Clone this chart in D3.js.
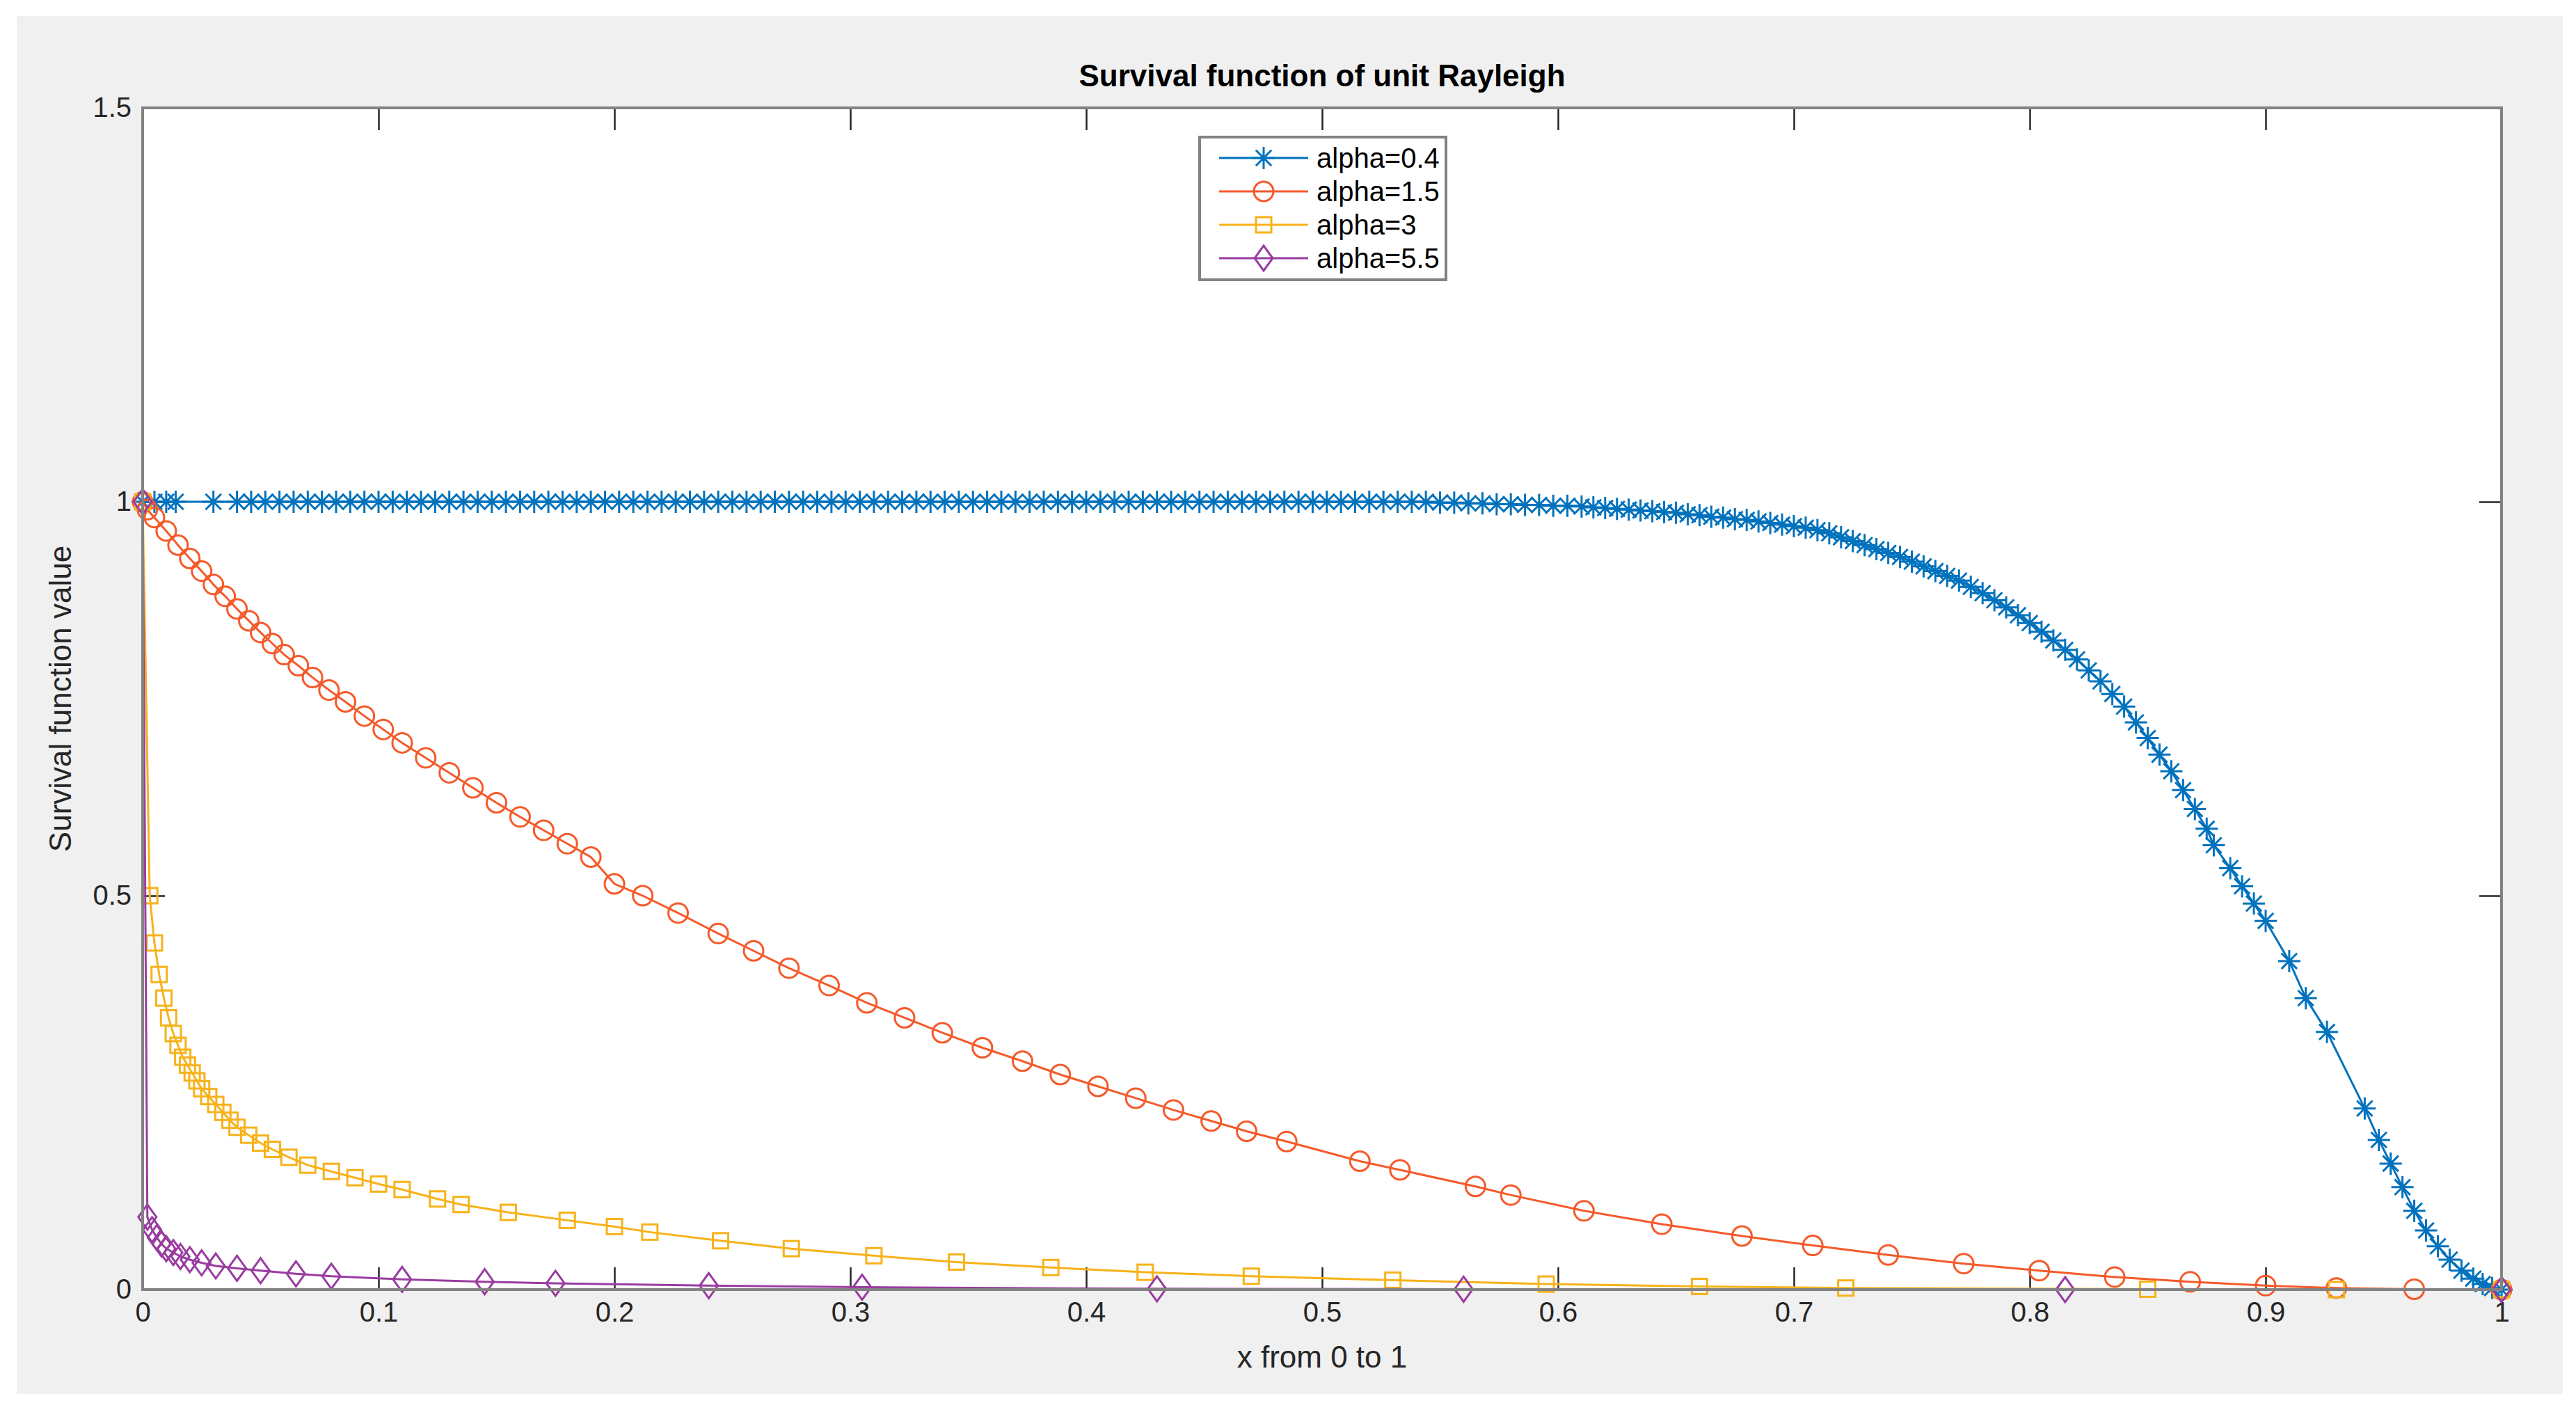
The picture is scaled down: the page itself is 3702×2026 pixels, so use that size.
<!DOCTYPE html>
<html>
<head>
<meta charset="utf-8">
<script src="https://cdn.jsdelivr.net/npm/d3@7"></script>
<style>
  body { margin: 0; background: #fff; }
  text { font-family: "Liberation Sans", Arial, sans-serif; }
</style>
</head>
<body>
<svg id="chart" width="3702" height="2026"></svg>
<script>
// ---- data ----
var xTicks = [0, 0.1, 0.2, 0.3, 0.4, 0.5, 0.6, 0.7, 0.8, 0.9, 1];
var yTicks = [0, 0.5, 1, 1.5];
var seriesNames = ["alpha=0.4", "alpha=1.5", "alpha=3", "alpha=5.5"];

var alpha04 = [
  [0,1],[0.005,1],[0.01,1],[0.014,1],[0.03,1],[0.04,1],[0.046,1],[0.052,1],[0.058,1],[0.064,1],
  [0.07,1],[0.076,1],[0.082,1],[0.088,1],[0.094,1],[0.1,1],[0.106,1],[0.112,1],[0.118,1],[0.124,1],
  [0.13,1],[0.136,1],[0.142,1],[0.148,1],[0.154,1],[0.16,1],[0.166,1],[0.172,1],[0.178,1],[0.184,1],
  [0.19,1],[0.196,1],[0.202,1],[0.208,1],[0.214,1],[0.22,1],[0.226,1],[0.232,1],[0.238,1],[0.244,1],
  [0.25,1],[0.256,1],[0.262,1],[0.268,1],[0.274,1],[0.28,1],[0.286,1],[0.292,1],[0.298,1],[0.304,1],
  [0.31,1],[0.316,1],[0.322,1],[0.328,1],[0.334,1],[0.34,1],[0.346,1],[0.352,1],[0.358,1],[0.364,1],
  [0.37,1],[0.376,1],[0.382,1],[0.388,1],[0.394,1],[0.4,1],[0.406,1],[0.412,1],[0.418,1],[0.424,1],
  [0.43,1],[0.436,1],[0.442,1],[0.448,1],[0.454,1],[0.46,1],[0.466,1],[0.472,1],[0.478,1],[0.484,1],
  [0.49,1],[0.496,1],[0.502,1],[0.508,1],[0.514,1],[0.52,1],[0.526,1],[0.532,1],[0.538,1],[0.544,1],
  [0.55,0.999],[0.556,0.999],[0.562,0.998],[0.568,0.998],[0.574,0.997],[0.58,0.997],[0.586,0.996],
  [0.592,0.996],[0.598,0.995],[0.604,0.995],[0.61,0.994],[0.615,0.993],[0.62,0.992],[0.625,0.991],
  [0.63,0.99],[0.635,0.989],[0.64,0.988],[0.645,0.987],[0.65,0.986],[0.655,0.984],[0.66,0.983],
  [0.665,0.981],[0.67,0.98],[0.675,0.978],[0.68,0.977],[0.685,0.975],[0.69,0.973],[0.695,0.971],
  [0.7,0.969],[0.705,0.967],[0.71,0.964],[0.715,0.96],[0.72,0.955],[0.725,0.95],[0.73,0.945],
  [0.735,0.94],[0.74,0.935],[0.745,0.93],[0.75,0.924],[0.755,0.918],[0.76,0.912],[0.765,0.906],
  [0.77,0.9],[0.775,0.892],[0.78,0.884],[0.785,0.875],[0.79,0.866],[0.795,0.856],[0.8,0.846],
  [0.805,0.835],[0.81,0.824],[0.815,0.812],[0.82,0.8],[0.825,0.786],[0.83,0.772],[0.835,0.756],
  [0.84,0.74],[0.845,0.72],[0.85,0.7],[0.855,0.679],[0.86,0.658],[0.865,0.634],[0.87,0.61],
  [0.875,0.585],[0.878,0.564],[0.885,0.535],[0.89,0.512],[0.895,0.49],[0.9,0.468],[0.91,0.417],
  [0.917,0.37],[0.926,0.327],[0.942,0.23],[0.948,0.19],[0.953,0.16],[0.958,0.13],[0.963,0.10],
  [0.968,0.075],[0.973,0.055],[0.978,0.038],[0.983,0.024],[0.988,0.014],[0.992,0.007],[0.996,0.002],[1,0]
];

var alpha15 = [
  [0,1],[0.002,0.99],[0.005,0.98],[0.01,0.963],[0.015,0.945],[0.02,0.928],[0.025,0.912],[0.03,0.895],
  [0.035,0.88],[0.04,0.864],[0.045,0.849],[0.05,0.834],[0.055,0.82],[0.06,0.806],[0.066,0.792],
  [0.072,0.777],[0.079,0.761],[0.086,0.746],[0.094,0.728],[0.102,0.711],[0.11,0.694],[0.12,0.675],
  [0.13,0.656],[0.14,0.637],[0.15,0.618],[0.16,0.6],[0.17,0.583],[0.18,0.566],[0.19,0.549],
  [0.2,0.515],[0.212,0.5],[0.227,0.478],[0.244,0.452],[0.259,0.43],[0.274,0.408],[0.291,0.386],
  [0.307,0.364],[0.323,0.345],[0.339,0.326],[0.356,0.307],[0.373,0.29],[0.389,0.273],[0.405,0.258],
  [0.421,0.243],[0.437,0.228],[0.453,0.214],[0.468,0.201],[0.485,0.188],[0.516,0.163],[0.533,0.152],
  [0.565,0.131],[0.58,0.12],[0.611,0.1],[0.644,0.083],[0.678,0.068],[0.708,0.056],[0.74,0.044],
  [0.772,0.033],[0.804,0.024],[0.836,0.016],[0.868,0.01],[0.9,0.005],[0.93,0.002],[0.963,0.0005],[1,0]
];

var alpha3 = [
  [0,1],[0.003,0.5],[0.005,0.44],[0.007,0.4],[0.009,0.37],[0.011,0.345],[0.013,0.325],[0.015,0.31],
  [0.017,0.295],[0.019,0.285],[0.021,0.275],[0.023,0.265],[0.025,0.255],[0.028,0.245],[0.031,0.235],
  [0.034,0.225],[0.037,0.215],[0.04,0.206],[0.045,0.196],[0.05,0.186],[0.055,0.178],[0.062,0.168],
  [0.07,0.158],[0.08,0.15],[0.09,0.142],[0.1,0.134],[0.11,0.127],[0.125,0.115],[0.135,0.108],
  [0.155,0.098],[0.18,0.088],[0.2,0.08],[0.215,0.073],[0.245,0.062],[0.275,0.052],[0.31,0.043],
  [0.345,0.035],[0.385,0.028],[0.425,0.022],[0.47,0.017],[0.53,0.012],[0.595,0.007],[0.66,0.004],
  [0.722,0.002],[0.85,0.0005],[0.93,0],[1,0]
];

var alpha55 = [
  [0,1],[0.002,0.092],[0.004,0.076],[0.006,0.066],[0.008,0.058],[0.01,0.052],[0.013,0.047],
  [0.016,0.042],[0.02,0.038],[0.025,0.034],[0.031,0.03],[0.04,0.027],[0.05,0.024],[0.065,0.02],
  [0.08,0.017],[0.11,0.013],[0.145,0.01],[0.175,0.008],[0.24,0.005],[0.305,0.003],[0.43,0.001],
  [0.56,0.0005],[0.815,0],[1,0]
];

var allSeries = [alpha04, alpha15, alpha3, alpha55];
var colors = ["#0072BD", "#F55A2A", "#F7B21A", "#993CA0"];
var markers = ["star", "circle", "square", "diamond"];

// ---- layout ----
var svg = d3.select("#chart");
var plotL = 205, plotR = 3595, plotT = 155, plotB = 1853;

svg.append("rect").attr("x", 24).attr("y", 23).attr("width", 3659).attr("height", 1980)
  .attr("fill", "#f0f0f0");
svg.append("rect").attr("x", plotL).attr("y", plotT).attr("width", plotR - plotL).attr("height", plotB - plotT)
  .attr("fill", "#fff");

var x = d3.scaleLinear().domain([0, 1]).range([plotL, plotR]);
var y = d3.scaleLinear().domain([0, 1.5]).range([plotB, plotT]);

var tickLen = 32;
function styleAxis(g) {
  g.select(".domain").remove();
  g.selectAll(".tick line").attr("stroke", "#262626").attr("stroke-width", 2.5);
  g.selectAll(".tick text").attr("fill", "#262626").attr("font-size", 40);
}
svg.append("g").attr("transform", "translate(0," + plotB + ")")
  .call(d3.axisBottom(x).tickValues(xTicks).tickSizeInner(-tickLen).tickPadding(18).tickFormat(d3.format("")))
  .call(styleAxis);
svg.append("g").attr("transform", "translate(0," + plotT + ")")
  .call(d3.axisTop(x).tickValues(xTicks).tickSizeInner(-tickLen).tickFormat(""))
  .call(styleAxis);
svg.append("g").attr("transform", "translate(" + plotL + ",0)")
  .call(d3.axisLeft(y).tickValues(yTicks).tickSizeInner(-tickLen).tickPadding(16).tickFormat(d3.format("")))
  .call(styleAxis);
svg.append("g").attr("transform", "translate(" + plotR + ",0)")
  .call(d3.axisRight(y).tickValues(yTicks).tickSizeInner(-tickLen).tickFormat(""))
  .call(styleAxis);

// ---- lines and markers ----
var line = d3.line().x(d => x(d[0])).y(d => y(d[1]));

function drawMarker(g, type, cx, cy, color) {
  if (type === "star") {
    var r = 16;
    g.append("path").attr("d",
      "M" + (cx - r) + "," + cy + "H" + (cx + r) +
      "M" + cx + "," + (cy - r) + "V" + (cy + r) +
      "M" + (cx - r * 0.7) + "," + (cy - r * 0.7) + "L" + (cx + r * 0.7) + "," + (cy + r * 0.7) +
      "M" + (cx - r * 0.7) + "," + (cy + r * 0.7) + "L" + (cx + r * 0.7) + "," + (cy - r * 0.7))
      .attr("stroke", color).attr("stroke-width", 3).attr("fill", "none");
  } else if (type === "circle") {
    g.append("circle").attr("cx", cx).attr("cy", cy).attr("r", 14)
      .attr("stroke", color).attr("stroke-width", 3).attr("fill", "none");
  } else if (type === "square") {
    g.append("rect").attr("x", cx - 11).attr("y", cy - 11).attr("width", 22).attr("height", 22)
      .attr("stroke", color).attr("stroke-width", 3).attr("fill", "none");
  } else {
    g.append("path").attr("d",
      "M" + cx + "," + (cy - 18) + "L" + (cx + 13) + "," + cy + "L" + cx + "," + (cy + 18) + "L" + (cx - 13) + "," + cy + "Z")
      .attr("stroke", color).attr("stroke-width", 3).attr("fill", "none");
  }
}

var plot = svg.append("g");
allSeries.forEach(function (data, i) {
  var g = plot.append("g");
  g.append("path").datum(data).attr("d", line)
    .attr("fill", "none").attr("stroke", colors[i]).attr("stroke-width", 3);
  data.forEach(function (d) { drawMarker(g, markers[i], x(d[0]), y(d[1]), colors[i]); });
});

// ---- axis frame on top ----
svg.append("rect").attr("x", plotL).attr("y", plotT).attr("width", plotR - plotL).attr("height", plotB - plotT)
  .attr("fill", "none").attr("stroke", "#828282").attr("stroke-width", 4);

// ---- titles ----
svg.append("text").attr("x", (plotL + plotR) / 2).attr("y", 124).attr("text-anchor", "middle")
  .attr("font-size", 44).attr("font-weight", "bold").attr("fill", "#000")
  .text("Survival function of unit Rayleigh");
svg.append("text").attr("x", (plotL + plotR) / 2).attr("y", 1965).attr("text-anchor", "middle")
  .attr("font-size", 44).attr("fill", "#262626").text("x from 0 to 1");
svg.append("text").attr("transform", "translate(102," + ((plotT + plotB) / 2) + ") rotate(-90)")
  .attr("text-anchor", "middle").attr("font-size", 44).attr("fill", "#262626")
  .text("Survival function value");

// ---- legend ----
var lg = svg.append("g");
lg.append("rect").attr("x", 1724).attr("y", 197).attr("width", 354).attr("height", 205)
  .attr("fill", "#fff").attr("stroke", "#828282").attr("stroke-width", 4);
seriesNames.forEach(function (name, i) {
  var ly = 227 + i * 48;
  lg.append("line").attr("x1", 1752).attr("x2", 1880).attr("y1", ly).attr("y2", ly)
    .attr("stroke", colors[i]).attr("stroke-width", 3);
  drawMarker(lg, markers[i], 1816, ly, colors[i]);
  lg.append("text").attr("x", 1892).attr("y", ly + 14).attr("font-size", 40).attr("fill", "#000").text(name);
});
</script>
</body>
</html>
